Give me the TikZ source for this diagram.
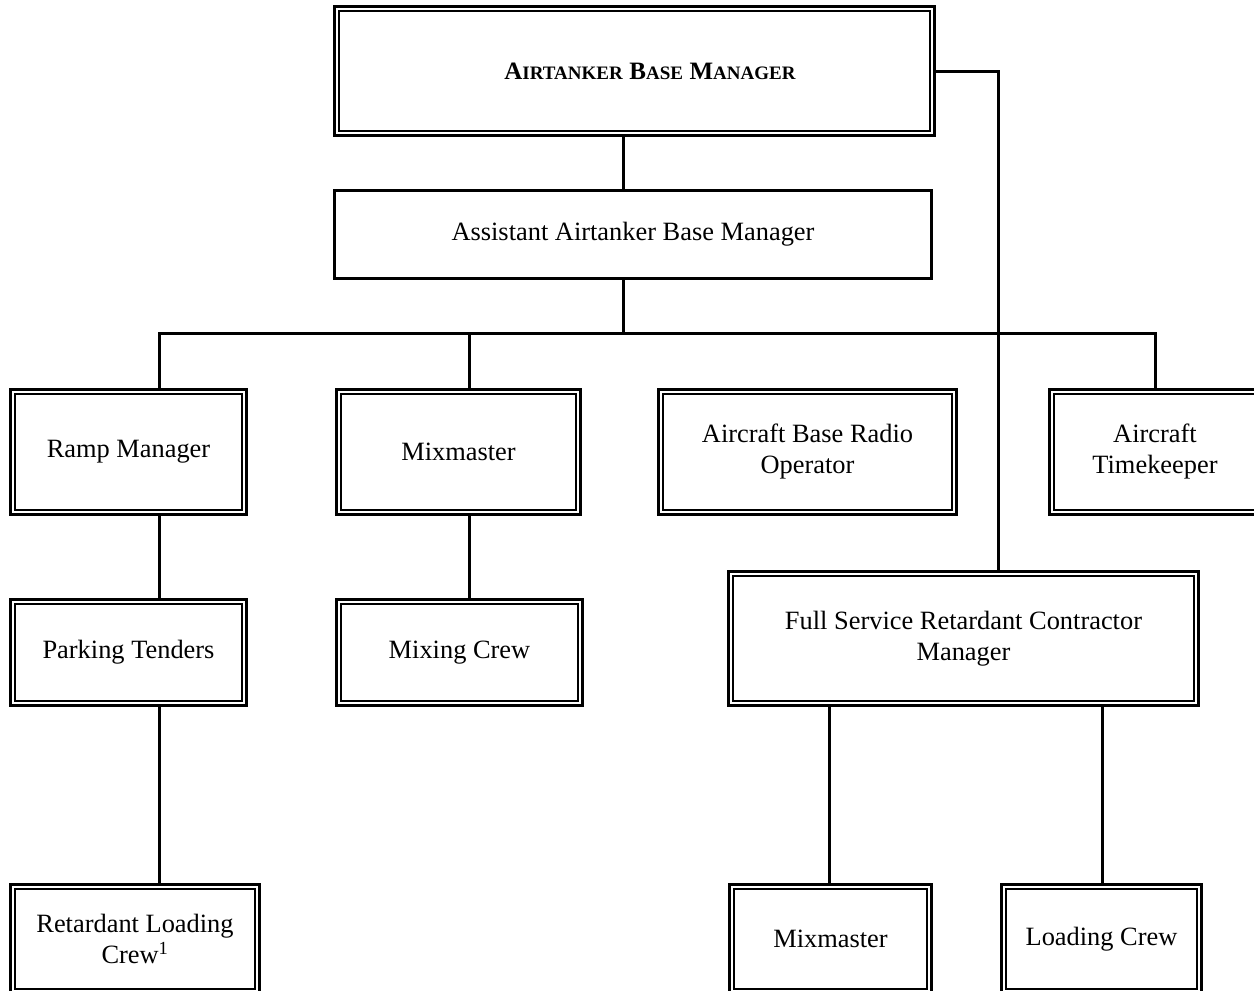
\documentclass[tikz,border=0pt]{standalone}
\usepackage{fontspec}
\setmainfont{Liberation Serif}
\newcommand\hsc[2]{{\fontsize{25}{30}\selectfont #1}{\fontsize{19}{30}\selectfont #2}}
\tikzset{
  txt/.style={align=center, font=\fontsize{26.4}{31}\selectfont},
  sbox/.style={txt, draw, line width=3.3pt, inner sep=0pt, outer sep=1.65pt},
  dbox/.style={txt, draw, line width=2.7pt, double=white, double distance=2pt, inner sep=0pt, outer sep=3.7pt},
  conn/.style={line width=3pt},
}
\begin{document}
\begin{tikzpicture}[x=1pt,y=-1pt]
\useasboundingbox (0,0) rectangle (1254,991);
\clip (0,0) rectangle (1254,991);
% boxes
\node[dbox, minimum width=595.6pt, minimum height=124.6pt] (top) at (634.5,71)
  {\hspace*{31pt}\bfseries\hsc{A}{IRTANKER} \hsc{B}{ASE} \hsc{M}{ANAGER}};
\node[sbox, minimum width=596.7pt, minimum height=87.7pt] (asst) at (633,234.5)
  {Assistant Airtanker Base Manager};
\node[dbox, minimum width=231.6pt, minimum height=120.6pt] (ramp) at (128.5,452) {Ramp Manager};
\node[dbox, minimum width=239.6pt, minimum height=120.6pt] (mix) at (458.5,452) {Mixmaster};
\node[dbox, minimum width=293.6pt, minimum height=120.6pt] (radio) at (807.5,452) {Aircraft Base Radio\\Operator};
\node[dbox, minimum width=206.6pt, minimum height=120.6pt] (time) at (1155,452) {Aircraft\\Timekeeper};
\node[dbox, minimum width=231.6pt, minimum height=101.6pt] (park) at (128.5,652.5) {Parking Tenders};
\node[dbox, minimum width=241.6pt, minimum height=101.6pt] (mixc) at (459.5,652.5) {Mixing Crew};
\node[dbox, minimum width=465.6pt, minimum height=129.6pt] (fs) at (963.5,638.5) {Full Service Retardant Contractor\\Manager};
\node[dbox, minimum width=244.6pt, minimum height=104.6pt] (rlc) at (135,939) {Retardant Loading\\Crew\textsuperscript{1}};
\node[dbox, minimum width=197.6pt, minimum height=104.6pt] (mixb) at (830.5,939) {Mixmaster};
\node[dbox, minimum width=195.6pt, minimum height=104.6pt] (load) at (1101.5,939) {Loading Crew};
% connector columns
\coordinate (ca) at (623,0);
\coordinate (cr) at (159,0);
\coordinate (cm) at (469,0);
\coordinate (ct) at (1155,0);
\coordinate (cf) at (998,0);
\coordinate (cb) at (829,0);
\coordinate (cl) at (1102,0);
\coordinate (bus) at (0,333);
% connectors
\draw[conn] (ca |- top.south) -- (ca |- asst.north);
\draw[conn] (ca |- asst.south) -- (ca |- bus);
\draw[conn] (cr |- ramp.north) |- (ct |- bus) -- (ct |- time.north);
\draw[conn] (cm |- bus) -- (cm |- mix.north);
\draw[conn] (top.east) -| (cf |- fs.north);
\draw[conn] (cr |- ramp.south) -- (cr |- park.north);
\draw[conn] (cr |- park.south) -- (cr |- rlc.north);
\draw[conn] (cm |- mix.south) -- (cm |- mixc.north);
\draw[conn] (cb |- fs.south) -- (cb |- mixb.north);
\draw[conn] (cl |- fs.south) -- (cl |- load.north);
\end{tikzpicture}
\end{document}
